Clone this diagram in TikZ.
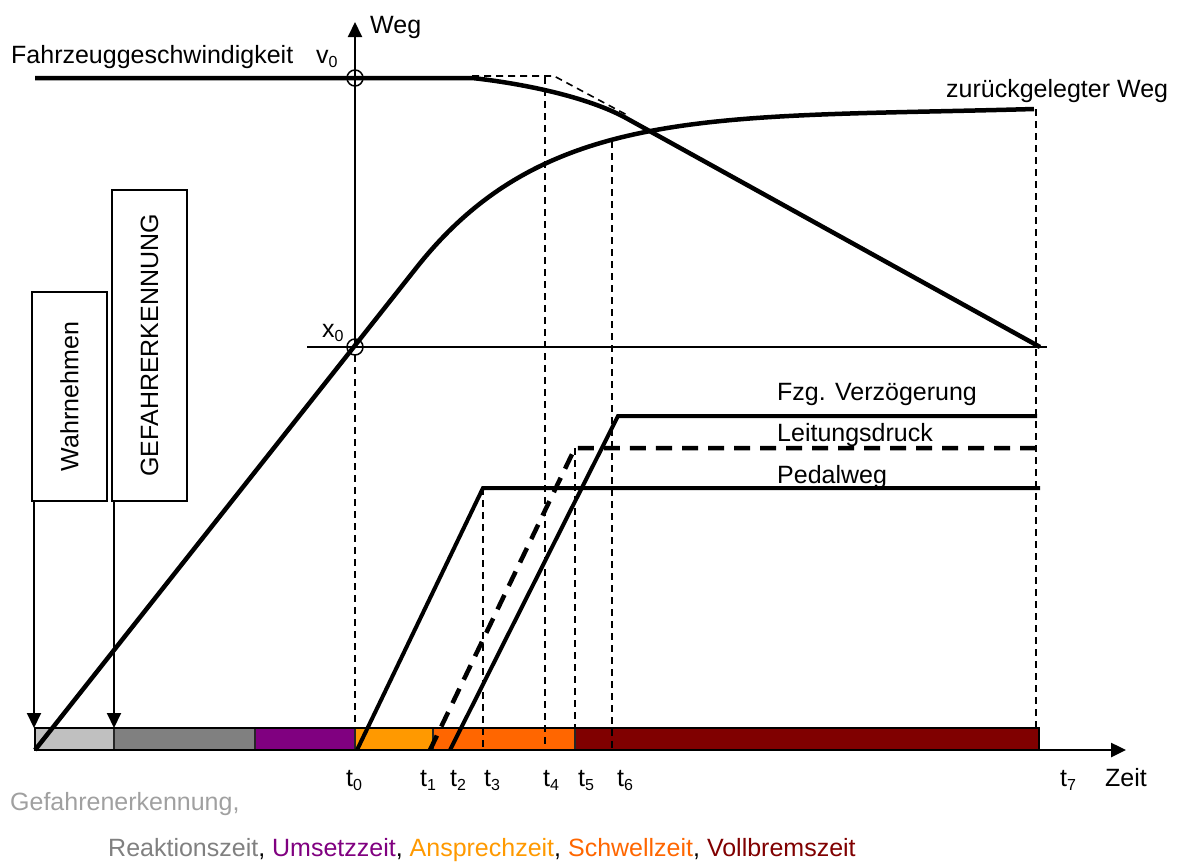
\documentclass[tikz,border=0pt]{standalone}
\usepackage{fontspec}
\setmainfont{Liberation Sans}
\usetikzlibrary{arrows.meta,calc}
\definecolor{cLG}{HTML}{C0C0C0}
\definecolor{cG}{HTML}{808080}
\definecolor{cP}{HTML}{800080}
\definecolor{cO}{HTML}{FF9900}
\definecolor{cDO}{HTML}{FF6600}
\definecolor{cR}{HTML}{800000}
\definecolor{cTxtLG}{HTML}{A0A0A0}
\newcommand\lowsub[1]{\raisebox{-4pt}{\fontsize{16}{16}\selectfont #1}}
\begin{document}
\begin{tikzpicture}[x=1pt,y=-1pt,
  lbl/.style={anchor=base west, inner sep=0pt, font=\fontsize{25}{30}\selectfont},
  curve/.style={line width=4.5pt},
  plotline/.style={line width=4pt},
  thindash/.style={line width=1.6pt, dash pattern=on 7pt off 5pt},
  thickdash/.style={line width=4.5pt, dash pattern=on 16pt off 10pt},
  axisline/.style={line width=2pt},
  tip/.style={-{Triangle[width=14pt,length=15pt]}},
  vbox/.style={draw, line width=2pt, rotate=90, inner sep=0pt, minimum height=75pt, font=\fontsize{25}{30}\selectfont},
  seg/.style={line width=1.5pt, draw=black!85},
  ring/.style={circle, draw, line width=1.5pt, minimum size=16pt, inner sep=0pt}
]
\useasboundingbox (0,0) rectangle (1179,863);

% time bar
\fill[cLG] (35,728) rectangle (114,750);
\fill[cG] (114,728) rectangle (255,750);
\fill[cP] (255,728) rectangle (355,750);
\fill[cO] (355,728) rectangle (433,750);
\fill[cDO] (433,728) rectangle (575,750);
\fill[cR] (575,728) rectangle (1039,750);
\foreach \xx in {114,255,355,433,575} \draw[seg] (\xx,728) -- (\xx,750);
\draw[line width=2.5pt] (35,728) rectangle (1039,750);

% coordinates
\coordinate (origin) at (35,750);
\coordinate (zeittip) at (1126,750);
\coordinate (axbot) at (355,347);
\coordinate (axtop) at (355,22);
\coordinate (hl) at (307,347);
\coordinate (hr) at (1047,347);

% time axis
\draw[axisline, line width=2.5pt, tip] (origin) -- (zeittip);
% Weg axis
\draw[axisline, tip] (axbot) -- (axtop);
\draw[axisline] (hl) -- (hr);

% dashed verticals
\draw[thindash] (355,355) -- (355,728);
\draw[thindash] (483,488) -- (483,750);
\draw[thindash] (545,77) -- (545,750);
\draw[thindash] (575,448) -- (575,728);
\draw[thindash] (612,141) -- (612,750);
\draw[thindash] (1036,109) -- (1036,728);

% dashed tangent
\draw[thindash] (472,76) -- (554,76) -- (627,115);

% curves
\draw[curve] (origin) -- (417,267) .. controls (547,103) and (720,118) .. (1034,109);
\draw[curve] (35,78) -- (472,78) .. controls (510,82) and (582,94) .. (626,118) -- (1040,347);

% pedal / pressure / deceleration
\draw[plotline] (357,750) -- (483,488) -- (1040,488);
\draw[thickdash] (430,750) -- (575,448) -- (1036,448);
\draw[plotline] (450,750) -- (618,416) -- (1037,416);

% rings
\node[ring] (v0ring) at (355,78) {};
\node[ring] (x0ring) at (355,347) {};

% boxes
\node[vbox, minimum width=209pt] (wbox) at (69.5,396.5) {Wahrnehmen};
\node[vbox, minimum width=311.5pt] (gbox) at (149.5,345.25) {GEFAHRERKENNUNG};
\coordinate (wtip) at (34,728);
\coordinate (gtip) at (114,728);
\draw[axisline, tip] (wbox.west -| wtip) -- (wtip);
\draw[axisline, tip] (gbox.west -| gtip) -- (gtip);

% labels
\node[lbl] (weg) at (370,33) {Weg};
\node[lbl] (fzgl) at (11,63) {Fahrzeuggeschwindigkeit};
\node[lbl] (v0) at (316,63) {v\lowsub{0}};
\node[lbl] (zw) at (946,97) {zurückgelegter Weg};
\node[lbl] (x0) at (322,337) {x\lowsub{0}};
\node[lbl] (fv) at (777,400) {Fzg. Verzögerung};
\node[lbl] (ld) at (777,441) {Leitungsdruck};
\node[lbl] (pw) at (777,483) {Pedalweg};

\node[lbl] (t0) at (346,786) {t\lowsub{0}};
\node[lbl] (t1) at (420,786) {t\lowsub{1}};
\node[lbl] (t2) at (450,786) {t\lowsub{2}};
\node[lbl] (t3) at (484,786) {t\lowsub{3}};
\node[lbl] (t4) at (543,786) {t\lowsub{4}};
\node[lbl] (t5) at (578,786) {t\lowsub{5}};
\node[lbl] (t6) at (617,786) {t\lowsub{6}};
\node[lbl] (t7) at (1060,786) {t\lowsub{7}};
\node[lbl] (zeit) at (1105,786) {Zeit};

\node[lbl, text=cTxtLG] (gef) at (10,810) {Gefahrenerkennung,};
\node[lbl] (legend) at (108,856) {\textcolor{cG}{Reaktionszeit}, \textcolor{cP}{Umsetzzeit}, \textcolor{cO}{Ansprechzeit}, \textcolor{cDO}{Schwellzeit}, \textcolor{cR}{Vollbremszeit}};
\end{tikzpicture}
\end{document}
